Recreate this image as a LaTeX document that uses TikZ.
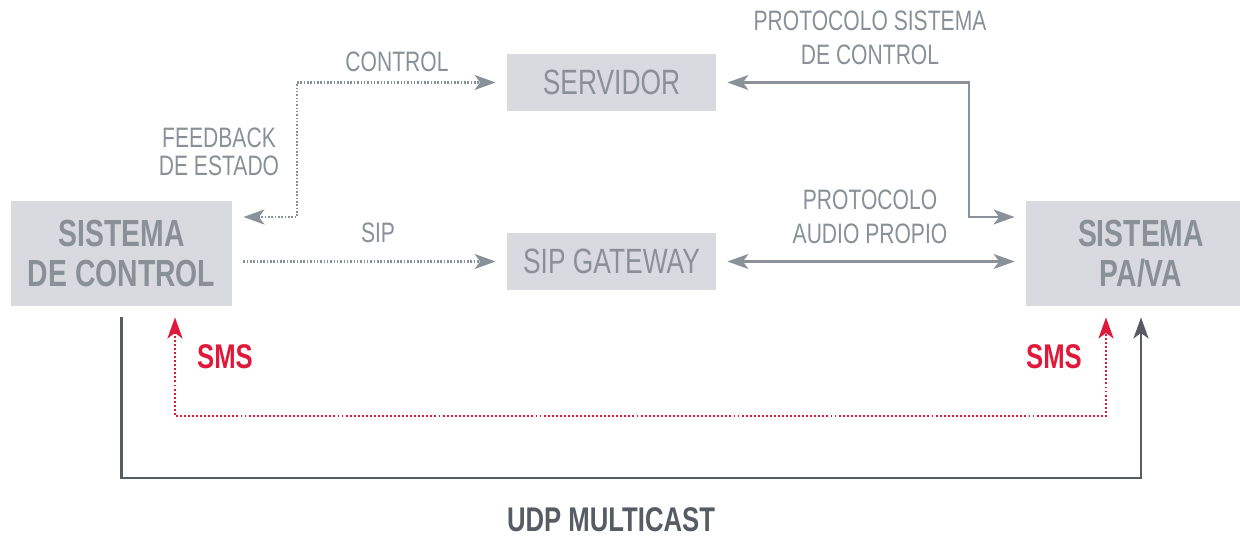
\documentclass[tikz,border=0pt]{standalone}
\usepackage{fontspec}
\setmainfont{Liberation Sans}[FakeStretch=0.75]
\usetikzlibrary{arrows.meta}

\definecolor{boxgray}{HTML}{D9DADF}
\definecolor{txtgray}{HTML}{8A9097}
\definecolor{linegray}{HTML}{8B9199}
\definecolor{darkgray}{HTML}{575B63}
\definecolor{smsred}{HTML}{E0193A}

\begin{document}
\begin{tikzpicture}[%
          x=0.02cm, y=-0.02cm,
          >={Stealth[length=0.42cm, width=0.3cm, inset=0.11cm]},
          block/.style={fill=boxgray, text=txtgray, inner sep=0pt, outer sep=6.5pt,
                        align=center, font=\fontsize{20}{22}\selectfont},
          bigblock/.style={block, font=\bfseries\fontsize{21.5}{23}\selectfont},
          lbl/.style={text=txtgray, align=center, inner sep=0pt, font=\fontsize{16}{16}\selectfont},
          link/.style={draw=linegray, line width=1.2pt, <->},
          dotlink/.style={link, line width=1.4pt, dash pattern=on 0.9pt off 1pt},
          smslink/.style={draw=smsred, line width=1.4pt, dash pattern=on 1.1pt off 1.2pt, <->},
          udplink/.style={draw=darkgray, line width=1.4pt, ->}]

  \useasboundingbox (0,0) rectangle (1240,537);

  \node[block, minimum width=4.18cm, minimum height=1.14cm] (serv) at (611.5, 82.5) {SERVIDOR};
  \node[block, minimum width=4.18cm, minimum height=1.14cm] (gw) at (611.5, 261.5) {SIP GATEWAY};
  \node[bigblock, minimum width=4.42cm, minimum height=2.1cm] (ctrl) at (121.5, 253.5) {SISTEMA\\DE CONTROL};
  \node[bigblock, minimum width=4.6cm, minimum height=2.1cm] (pava) at (1141, 253.5) {SISTEMA\\PA/VA};

  \node[lbl] (lcontrol) at (397, 62) {CONTROL};
  \node[lbl] (lfeedback) at (219, 152) {FEEDBACK\\DE ESTADO};
  \node[lbl] (lsip) at (378, 233) {SIP};
  \node[lbl, font=\fontsize{16}{19}\selectfont] (lpsc) at (870, 38) {PROTOCOLO SISTEMA\\DE CONTROL};
  \node[lbl, font=\fontsize{16}{19}\selectfont] (laudio) at (870, 217) {PROTOCOLO\\AUDIO PROPIO};
  \node[lbl, text=darkgray, font=\bfseries\fontsize{19.5}{22}\selectfont] (ludp) at (611, 520) {UDP MULTICAST};
  \node[lbl, text=smsred, font=\bfseries\fontsize{19.5}{20}\selectfont] (lsmsl) at (225, 357) {SMS};
  \node[lbl, text=smsred, font=\bfseries\fontsize{19.5}{20}\selectfont] (lsmsr) at (1054, 357) {SMS};

  \coordinate (fbturn) at (297, 217);
  \coordinate (pscturn) at (969, 217);
  \coordinate (udpturn) at (1141, 478);
  \coordinate (smsleft) at (175, 416);
  \coordinate (smsright) at (1106, 416);

  \draw[dotlink] (ctrl.east |- fbturn) -- (fbturn) |- (serv.west);
  \draw[dotlink, ->] (ctrl.east |- gw.west) -- (gw.west);

  \draw[link] (serv.east) -| (pscturn) -- (pava.west |- pscturn);
  \draw[link] (gw.east) -- (pava.west |- gw.east);

  \draw[udplink] (ctrl.south) |- (udpturn) -- (pava.south);
  \draw[smslink] (ctrl.south -| smsleft) -- (smsleft) -- (smsright) -- (pava.south -| smsright);

\end{tikzpicture}
\end{document}
